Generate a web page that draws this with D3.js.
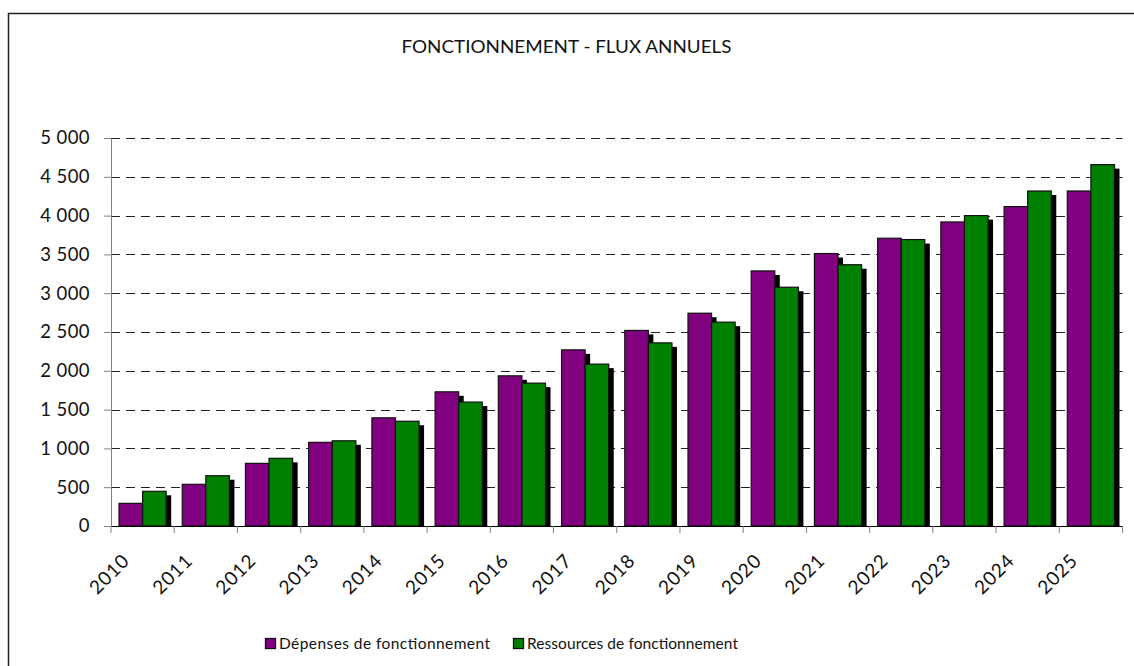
<!DOCTYPE html>
<html>
<head>
<meta charset="utf-8">
<script src="https://cdn.jsdelivr.net/npm/d3@7"></script>
<style>
  html, body { margin: 0; padding: 0; background: #fff; }
  svg { display: block; font-family: Lato, "Open Sans", sans-serif; }
</style>
</head>
<body>
<svg id="chart" width="1134" height="666"></svg>
<script>
const title = "FONCTIONNEMENT - FLUX ANNUELS";
const years = ["2010","2011","2012","2013","2014","2015","2016","2017","2018","2019","2020","2021","2022","2023","2024","2025"];
const depenses  = [292, 537, 807, 1078, 1394, 1729, 1935, 2270, 2520, 2742, 3287, 3511, 3708, 3918, 4116, 4317];
const ressources = [447, 648, 872, 1098, 1350, 1597, 1841, 2086, 2360, 2627, 3077, 3367, 3691, 4000, 4317, 4657];
const seriesNames = ["Dépenses de fonctionnement", "Ressources de fonctionnement"];
const seriesColors = ["#800080", "#008000"];
const yTicks = [0, 500, 1000, 1500, 2000, 2500, 3000, 3500, 4000, 4500, 5000];

const svg = d3.select("#chart");
const fmt = d3.formatLocale({decimal: ",", thousands: " ", grouping: [3], currency: ["", " €"]}).format(",d");

const plotL = 111, plotR = 1122.5, plotT = 138, plotB = 526;

// frame
svg.append("rect").attr("x", 8.5).attr("y", 13.5).attr("width", 1140).attr("height", 700)
  .attr("fill", "none").attr("stroke", "#222").attr("stroke-width", 1.5);

// title
svg.append("text").attr("x", 566.5).attr("y", 53).attr("text-anchor", "middle")
  .attr("font-size", 18).attr("fill", "#111").attr("textLength", 330).attr("lengthAdjust", "spacingAndGlyphs")
  .text(title);

const x = d3.scaleBand().domain(years).range([plotL, plotR]).paddingInner(0).paddingOuter(0);
const x1 = d3.scaleBand().domain([0, 1]).range([0, x.bandwidth()]).paddingInner(0).paddingOuter(0.34);
const y = d3.scaleLinear().domain([0, 5000]).range([plotB, plotT]);

// gridlines
svg.append("g").selectAll("line").data(yTicks.filter(d => d > 0)).join("line")
  .attr("x1", plotL).attr("x2", plotR)
  .attr("y1", d => Math.round(y(d)) + 0.5).attr("y2", d => Math.round(y(d)) + 0.5)
  .attr("stroke", "#222").attr("stroke-width", 1).attr("stroke-dasharray", "9,6");

// y axis
const yAxis = svg.append("g").attr("transform", `translate(${plotL},0)`)
  .call(d3.axisLeft(y).tickValues(yTicks).tickFormat(fmt).tickSize(7).tickPadding(14));
yAxis.select(".domain").attr("stroke", "#808080");
yAxis.selectAll(".tick line").attr("stroke", "#808080");
yAxis.selectAll(".tick text").attr("font-size", 18.5).attr("fill", "#111")
  .attr("font-family", "Lato, sans-serif").attr("letter-spacing", 0.4);

const data = years.map((yr, i) => ({year: yr, vals: [depenses[i], ressources[i]]}));
const groups = svg.append("g").selectAll("g").data(data).join("g")
  .attr("transform", d => `translate(${x(d.year)},0)`);

// shadows
groups.selectAll("rect.sh").data(d => d.vals.map((v, k) => ({v, k}))).join("rect").attr("class", "sh")
  .attr("x", d => x1(d.k) + 5).attr("y", d => y(d.v) + 4)
  .attr("width", x1.bandwidth()).attr("height", d => Math.max(0, plotB - y(d.v) - 4))
  .attr("fill", "#000");

// bars
groups.selectAll("rect.bar").data(d => d.vals.map((v, k) => ({v, k}))).join("rect").attr("class", "bar")
  .attr("x", d => x1(d.k)).attr("y", d => y(d.v))
  .attr("width", x1.bandwidth()).attr("height", d => plotB - y(d.v))
  .attr("fill", d => seriesColors[d.k]).attr("stroke", "#111").attr("stroke-width", 1.2);

// x axis
const xAxis = svg.append("g").attr("transform", `translate(0,${plotB})`)
  .call(d3.axisBottom(x).tickSize(0).tickFormat(""));
xAxis.select(".domain").attr("stroke", "#000").attr("stroke-width", 1.2);
// tick marks at band boundaries
svg.append("g").selectAll("line").data(years.concat(["end"])).join("line")
  .attr("x1", (d, i) => i < years.length ? x(d) : plotR)
  .attr("x2", (d, i) => i < years.length ? x(d) : plotR)
  .attr("y1", plotB).attr("y2", plotB + 7)
  .attr("stroke", "#808080").attr("stroke-width", 1);

// x labels rotated
svg.append("g").selectAll("text").data(years).join("text")
  .attr("transform", d => `translate(${x(d) + x.bandwidth() / 2 - 12},${562}) rotate(-45)`)
  .attr("text-anchor", "end").attr("font-size", 19).attr("letter-spacing", 0.8).attr("fill", "#111")
  .text(d => d);

// legend
const legendItems = [{x: 265, tx: 279, w: 211}, {x: 513, tx: 527, w: 211}];
const lg = svg.append("g").selectAll("g").data(seriesNames).join("g");
lg.append("rect").attr("x", (d, i) => legendItems[i].x + 0.5).attr("y", 638.5).attr("width", 10).attr("height", 10)
  .attr("fill", (d, i) => seriesColors[i]).attr("stroke", "#111").attr("stroke-width", 1.3);
lg.append("text").attr("x", (d, i) => legendItems[i].tx).attr("y", 649)
  .attr("font-size", 15.5).attr("fill", "#111")
  .attr("textLength", (d, i) => legendItems[i].w).attr("lengthAdjust", "spacing")
  .text(d => d);
</script>
</body>
</html>
